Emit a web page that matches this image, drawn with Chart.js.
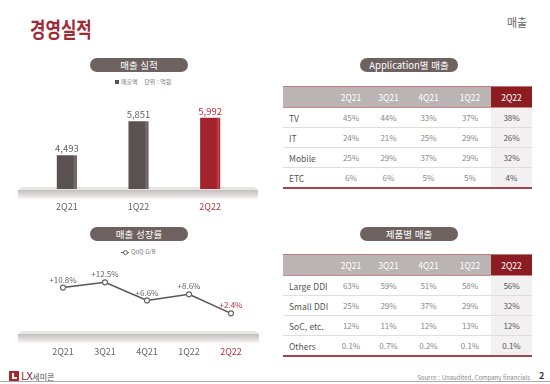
<!DOCTYPE html>
<html lang="ko">
<head>
<meta charset="utf-8">
<script src="https://cdn.jsdelivr.net/npm/chart.js@4.4.1/dist/chart.umd.min.js"></script>
<style>
  html, body { margin: 0; padding: 0; background: #fff; }
  body { width: 550px; height: 384px; position: relative; overflow: hidden;
         font-family: "Noto Sans CJK KR", "Noto Sans", sans-serif; color: #555; }
  .abs { position: absolute; }
  .title { left: 30px; top: 13px; font-size: 21px; font-weight: bold; color: #9e2a35;
           transform: scaleX(0.8); transform-origin: left top; white-space: nowrap; }
  .section { left: 507px; top: 14px; font-size: 11px; color: #666; }
  .pill { height: 14px; line-height: 14px; border-radius: 8px; background: #6d6260; color: #fff;
          font-size: 9.5px; text-align: center; white-space: nowrap; }
  .legend { font-size: 6px; color: #777; white-space: nowrap; }
  .legend .sq { display: inline-block; width: 4px; height: 4px; background: #5a5251; margin-right: 2px; vertical-align: 0; }
  .legend .mk { display: inline-block; position: relative; width: 8px; height: 5px; margin-right: 2px; vertical-align: -1px; }
  .legend .mk i { position: absolute; left: 0; right: 0; top: 2px; height: 1px; background: #666; }
  .legend .mk b { position: absolute; left: 2px; top: 0; width: 3px; height: 3px; border: 1px solid #666; border-radius: 50%; background: #fff; }
  table.tb { position: absolute; left: 283px; width: 249px; border-collapse: collapse; table-layout: fixed; }
  table.tb th { background: #bab5b4; color: #fff; font-weight: normal; font-size: 8.5px; height: 20px; padding: 0;
                border-top: 1px solid #b9787a; border-bottom: 1px solid #c48a8c; }
  table.tb th.hl { background: #8c1c22; }
  table.tb td { font-size: 8px; color: #888; text-align: center; height: 19px; padding: 0; border-bottom: 1px solid #dedede; }
  table.tb td.lb { text-align: left; padding-left: 6px; font-size: 8.5px; color: #555; }
  table.tb td.hl { background: #f2f0f0; color: #555; }
  table.tb tr:last-child td { border-bottom: 2px solid #a0454a; }
  .source { right: 20px; top: 373px; font-size: 6px; color: #888; white-space: nowrap; }
  .page { left: 539px; top: 369px; font-size: 9px; font-weight: bold; color: #333; }
  .rule { left: 0; top: 381px; width: 550px; height: 1px; background: #a9a9a9; }
  .logo { left: 9px; top: 361px; white-space: nowrap; }
  .logo .ic { display: inline-block; width: 10px; height: 10px; background: #b0242c; position: relative; vertical-align: -1px; }
  .logo .ic i { position: absolute; left: 3px; top: 2px; width: 2px; height: 6px; background: #fff; }
  .logo .ic b { position: absolute; left: 3px; top: 6px; width: 5px; height: 2px; background: #fff; }
  .logo .lx { font-size: 11px; color: #8b2a30; margin-left: 2px; letter-spacing: -0.5px; }
  .logo .km { font-size: 8px; color: #555; }
  canvas { position: absolute; }
</style>
</head>
<body>
<div class="abs title">경영실적</div>
<div class="abs section">매출</div>

<div class="abs pill" style="left:90px; top:58px; width:98px;">매출 실적</div>
<div class="abs legend" style="left:115px; top:77px;"><span class="sq"></span>매출액 &nbsp;&nbsp;&nbsp;단위 : 억원</div>
<canvas id="salesChart" width="275" height="120" style="left:0; top:95px;"></canvas>

<div class="abs pill" style="left:90px; top:227px; width:98px;">매출 성장률</div>
<div class="abs legend" style="left:121px; top:247px;"><span class="mk"><i></i><b></b></span>QoQ G/R</div>
<canvas id="growthChart" width="275" height="105" style="left:0; top:255px;"></canvas>

<div class="abs pill" style="left:360px; top:58px; width:98px;">Application별 매출</div>
<table class="tb" id="appTable" style="top:86px;"></table>

<div class="abs pill" style="left:360px; top:227px; width:98px;">제품별 매출</div>
<table class="tb" id="productTable" style="top:254px;"></table>

<div class="abs logo"><span class="ic"><i></i><b></b></span><span class="lx">LX</span><span class="km">세미콘</span></div>
<div class="abs source">Source : Unaudited, Company financials</div>
<div class="abs page">2</div>
<div class="abs rule"></div>

<script>
// 매출 실적 (억원)
const salesLabels = ['2Q21', '1Q22', '2Q22'];
const salesValues = [4493, 5851, 5992];

// 매출 성장률 (QoQ, %)
const growthLabels = ['2Q21', '3Q21', '4Q21', '1Q22', '2Q22'];
const growthValues = [10.8, 12.5, 6.6, 8.6, 2.4];

// 표 데이터 (%)
const quarters = ['2Q21', '3Q21', '4Q21', '1Q22', '2Q22'];
const appNames = ['TV', 'IT', 'Mobile', 'ETC'];
const appTV = [45, 44, 33, 37, 38];
const appIT = [24, 21, 25, 29, 26];
const appMobile = [25, 29, 37, 29, 32];
const appETC = [6, 6, 5, 5, 4];

const productNames = ['Large DDI', 'Small DDI', 'SoC, etc.', 'Others'];
const prodLarge = [63, 59, 51, 58, 56];
const prodSmall = [25, 29, 37, 29, 32];
const prodSoC = [12, 11, 12, 13, 12];
const prodOthers = [0.1, 0.7, 0.2, 0.1, 0.1];

const GRAY = '#666';
const RED = '#b8323a';
const FONT = '"Noto Sans CJK KR", "Noto Sans", sans-serif';
const colWidths = [50, 36, 39, 41, 42, 41];

function buildTable(id, names, rows, decimals) {
    const t = document.getElementById(id);
    let html = '<colgroup>' + colWidths.map(w => '<col style="width:' + w + 'px">').join('') + '</colgroup>';
    html += '<tr><th></th>' + quarters.map((q, i) =>
        '<th' + (i === quarters.length - 1 ? ' class="hl"' : '') + '>' + q + '</th>').join('') + '</tr>';
    rows.forEach((vals, r) => {
        html += '<tr><td class="lb">' + names[r] + '</td>' + vals.map((v, i) =>
            '<td' + (i === vals.length - 1 ? ' class="hl"' : '') + '>' +
            (decimals[r] ? v.toFixed(1) : v) + '%</td>').join('') + '</tr>';
    });
    t.innerHTML = html;
}
buildTable('appTable', appNames, [appTV, appIT, appMobile, appETC], [false, false, false, false]);
buildTable('productTable', productNames, [prodLarge, prodSmall, prodSoC, prodOthers], [false, false, false, true]);

// 바닥(받침대) 그리기
const floorPlugin = {
    id: 'floor',
    beforeDatasetsDraw(chart, args, opts) {
        const c = chart.ctx;
        const b = chart.chartArea.bottom;
        const l = opts.left, r = opts.right;
        c.save();
        c.fillStyle = '#e6e3e2';
        c.beginPath();
        c.moveTo(l + 4, b - 2);
        c.lineTo(r - 4, b - 2);
        c.lineTo(r, b + 1);
        c.lineTo(l, b + 1);
        c.closePath();
        c.fill();
        const g = c.createLinearGradient(0, b + 1, 0, b + 10);
        g.addColorStop(0, '#c3bfbe');
        g.addColorStop(0.5, '#dcd9d8');
        g.addColorStop(1, '#f7f6f6');
        c.fillStyle = g;
        c.fillRect(l, b + 1, r - l, 9);
        c.restore();
    }
};

// 값 라벨
const valueLabelPlugin = {
    id: 'valueLabels',
    afterDatasetsDraw(chart, args, opts) {
        const c = chart.ctx;
        const meta = chart.getDatasetMeta(0);
        const data = chart.data.datasets[0].data;
        c.save();
        c.font = opts.size + 'px ' + FONT;
        c.textAlign = 'center';
        c.textBaseline = 'bottom';
        meta.data.forEach((el, i) => {
            c.fillStyle = i === data.length - 1 ? RED : GRAY;
            c.fillText(opts.format(data[i]), el.x, el.y - opts.gap);
        });
        c.restore();
    }
};

function barFill(base, light) {
    return function(ctx) {
        const chart = ctx.chart;
        if (!chart.chartArea || !chart.scales.x) return base;
        const x = chart.scales.x.getPixelForValue(ctx.dataIndex);
        const g = chart.ctx.createLinearGradient(x - 10, 0, x + 10, 0);
        g.addColorStop(0, base);
        g.addColorStop(0.8, base);
        g.addColorStop(0.9, light);
        g.addColorStop(1, base);
        return g;
    };
}

new Chart(document.getElementById('salesChart'), {
    type: 'bar',
    data: {
        labels: salesLabels,
        datasets: [{
            data: salesValues,
            backgroundColor: ctx => ctx.dataIndex === salesValues.length - 1
                ? barFill('#a3222b', '#c5464e')(ctx)
                : barFill('#5a5251', '#7b7372')(ctx),
            barPercentage: 0.28,
            categoryPercentage: 1
        }]
    },
    options: {
        responsive: false,
        animation: false,
        devicePixelRatio: 1,
        layout: { padding: { left: 31, right: 29, top: 15, bottom: 2 } },
        scales: {
            x: {
                grid: { display: false, drawTicks: false },
                border: { display: false },
                afterFit: s => { s.height = 24; },
                ticks: {
                    padding: 12,
                    font: { family: FONT, size: 9 },
                    color: c => c.index === salesLabels.length - 1 ? RED : GRAY
                }
            },
            y: { display: false, min: 3150, max: 6300 }
        },
        plugins: {
            legend: { display: false },
            tooltip: { enabled: false },
            floor: { left: 18, right: 258 },
            valueLabels: { size: 9.5, gap: 2, format: v => v.toLocaleString('en-US') }
        }
    },
    plugins: [floorPlugin, valueLabelPlugin]
});

new Chart(document.getElementById('growthChart'), {
    type: 'line',
    data: {
        labels: growthLabels,
        datasets: [{
            data: growthValues,
            borderColor: '#5b5352',
            borderWidth: 1.5,
            pointRadius: 2.5,
            pointBackgroundColor: '#fff',
            pointBorderColor: '#666',
            pointBorderWidth: 1.2,
            tension: 0
        }]
    },
    options: {
        responsive: false,
        animation: false,
        devicePixelRatio: 1,
        layout: { padding: { left: 42, right: 23, top: 12, bottom: 3 } },
        scales: {
            x: {
                offset: true,
                grid: { display: false, drawTicks: false },
                border: { display: false },
                afterFit: s => { s.height = 24; },
                ticks: {
                    padding: 13,
                    font: { family: FONT, size: 9 },
                    color: c => c.index === growthLabels.length - 1 ? RED : GRAY
                }
            },
            y: { display: false, min: -4, max: 17.5 }
        },
        plugins: {
            legend: { display: false },
            tooltip: { enabled: false },
            floor: { left: 18, right: 259 },
            valueLabels: { size: 8, gap: 4, format: v => '+' + v.toFixed(1) + '%' }
        }
    },
    plugins: [floorPlugin, valueLabelPlugin]
});
</script>
</body>
</html>
